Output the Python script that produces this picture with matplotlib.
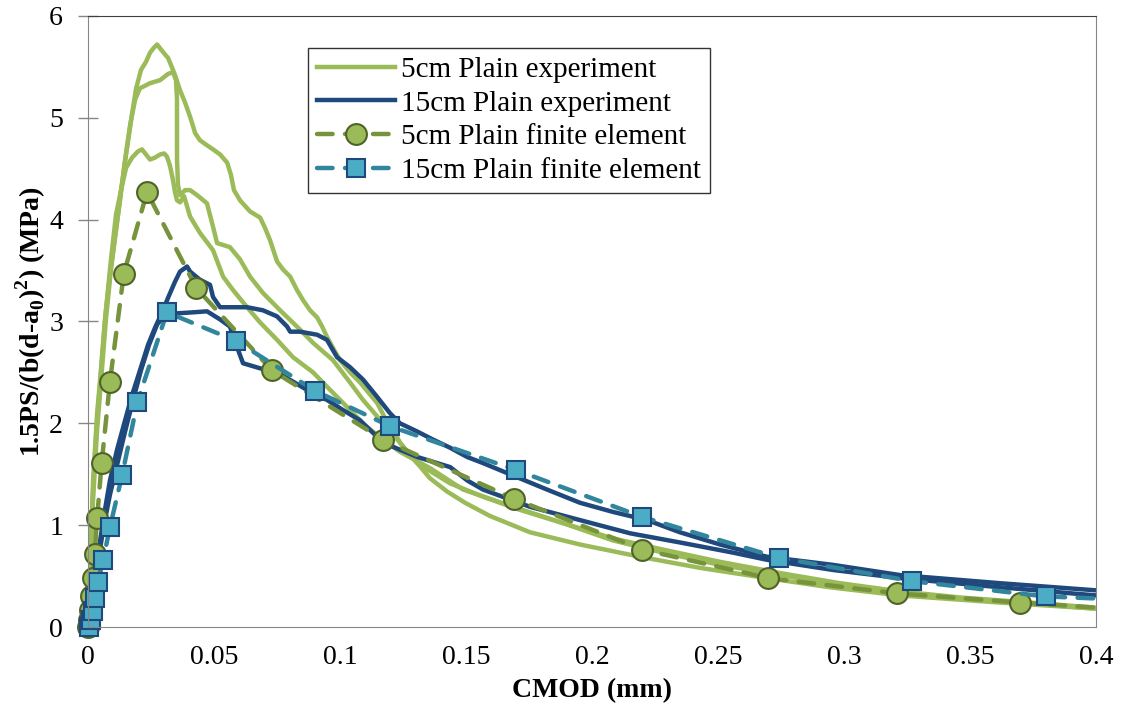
import matplotlib
matplotlib.use('Agg')
import matplotlib.pyplot as plt

plt.rcParams['font.family'] = ['Liberation Serif', 'DejaVu Serif']
plt.rcParams['mathtext.fontset'] = 'custom'
plt.rcParams['mathtext.rm'] = 'Liberation Serif'
plt.rcParams['mathtext.bf'] = 'Liberation Serif:bold'

# 5cm plain experiments (three specimens)
exp5a_x = [0, 0.0004, 0.0012, 0.002, 0.0036, 0.0048, 0.0067, 0.0087, 0.0111, 0.0131, 0.0151, 0.0171, 0.019, 0.021,
           0.023, 0.0246, 0.0262, 0.0274, 0.029, 0.0306, 0.0317, 0.0329, 0.0345, 0.0365, 0.0385, 0.0405, 0.0425,
           0.0444, 0.0472, 0.0496, 0.0524, 0.0552, 0.0567, 0.0579, 0.0603, 0.0643, 0.0683, 0.0702, 0.0722, 0.075,
           0.0774, 0.0802, 0.0829, 0.0853, 0.0881, 0.0909, 0.0929, 0.0948, 0.0972, 0.1, 0.104, 0.108, 0.112, 0.1147,
           0.1179, 0.121, 0.1238, 0.1266, 0.1306, 0.1357, 0.1425, 0.1496, 0.1595, 0.1754, 0.1952, 0.219, 0.243,
           0.2667, 0.2944, 0.3222, 0.3619, 0.4]
exp5a_y = [0, 0.36, 0.85, 1.44, 2.10, 2.43, 3.02, 3.46, 3.90, 4.29, 4.64, 4.98, 5.28, 5.47,
           5.55, 5.64, 5.69, 5.72, 5.67, 5.62, 5.59, 5.52, 5.42, 5.27, 5.15, 5.01, 4.85,
           4.78, 4.73, 4.69, 4.64, 4.56, 4.44, 4.29, 4.19, 4.08, 4.02, 3.92, 3.80, 3.59,
           3.51, 3.44, 3.31, 3.21, 3.11, 3.04, 2.95, 2.85, 2.74, 2.62, 2.50, 2.40, 2.28, 2.20,
           2.05, 1.94, 1.81, 1.72, 1.61, 1.46, 1.33, 1.22, 1.09, 0.93, 0.81, 0.69, 0.58,
           0.49, 0.39, 0.31, 0.24, 0.18]

exp5b_x = [0, 0.0008, 0.002, 0.0036, 0.0052, 0.0071, 0.0091, 0.0111, 0.0127, 0.0147, 0.0167, 0.0187, 0.0206,
           0.0246, 0.0286, 0.0317, 0.0337, 0.0349, 0.0353, 0.0353, 0.0353, 0.0357, 0.0365, 0.0385, 0.0405, 0.0433,
           0.0472, 0.0496, 0.0512, 0.0563, 0.0603, 0.0643, 0.0694, 0.0762, 0.0829, 0.0893, 0.0972, 0.104, 0.1091,
           0.1171, 0.1238, 0.1306, 0.1437, 0.1567, 0.1714, 0.1885, 0.2083, 0.2282, 0.2508, 0.2746, 0.2984, 0.3222,
           0.346, 0.3738, 0.4]
exp5b_y = [0, 0.56, 1.25, 1.94, 2.43, 3.02, 3.51, 3.90, 4.19, 4.59, 4.93, 5.18, 5.29,
           5.34, 5.37, 5.43, 5.45, 5.37, 5.18, 4.88, 4.59, 4.34, 4.24, 4.29, 4.29, 4.24,
           4.16, 3.93, 3.77, 3.73, 3.61, 3.44, 3.28, 3.11, 2.95, 2.79, 2.62, 2.40, 2.23,
           2.00, 1.81, 1.61, 1.41, 1.28, 1.15, 1.02, 0.87, 0.76, 0.64, 0.53, 0.43, 0.35,
           0.29, 0.24, 0.19]

exp5c_x = [0, 0.0008, 0.002, 0.0036, 0.0052, 0.0071, 0.0091, 0.0111, 0.0131, 0.0151, 0.0175, 0.0198, 0.0214,
           0.023, 0.0246, 0.0266, 0.0286, 0.0302, 0.0313, 0.0325, 0.0337, 0.0345, 0.0353, 0.0365, 0.0381, 0.0405,
           0.0444, 0.0496, 0.0536, 0.0575, 0.0631, 0.0683, 0.075, 0.0813, 0.0893, 0.096, 0.104, 0.1099, 0.1171,
           0.1238, 0.1357, 0.1488, 0.1687, 0.1885, 0.2083, 0.2282, 0.2508, 0.2746, 0.2984, 0.3222, 0.346, 0.3738, 0.4]
exp5c_y = [0, 0.66, 1.35, 2.03, 2.52, 3.11, 3.61, 4.05, 4.29, 4.51, 4.61, 4.67, 4.69,
           4.64, 4.59, 4.61, 4.64, 4.65, 4.62, 4.53, 4.39, 4.27, 4.19, 4.17, 4.23, 4.03,
           3.87, 3.70, 3.44, 3.31, 3.14, 2.99, 2.82, 2.65, 2.50, 2.33, 2.13, 1.98, 1.84,
           1.72, 1.56, 1.35, 1.18, 1.02, 0.85, 0.73, 0.61, 0.51, 0.41, 0.34, 0.28, 0.23, 0.18]

# 15cm plain experiments (two specimens)
exp15a_x = [0, 0.0008, 0.002, 0.0032, 0.0048, 0.0067, 0.0087, 0.0115, 0.0147, 0.0175, 0.0206, 0.0238, 0.0266,
            0.0294, 0.0317, 0.0345, 0.0365, 0.0393, 0.0405, 0.0444, 0.0484, 0.0496, 0.0524, 0.0631, 0.0694, 0.075,
            0.079, 0.0802, 0.0841, 0.0909, 0.0948, 0.0988, 0.104, 0.1091, 0.1147, 0.1198, 0.1238, 0.1306, 0.1369,
            0.1437, 0.1504, 0.1567, 0.1635, 0.1821, 0.1952, 0.2083, 0.2218, 0.2349, 0.2508, 0.2694, 0.2956, 0.3222,
            0.3619, 0.4]
exp15a_y = [0, 0.17, 0.36, 0.61, 0.85, 1.15, 1.44, 1.74, 2.03, 2.28, 2.52, 2.77, 2.94,
            3.09, 3.23, 3.39, 3.49, 3.54, 3.49, 3.41, 3.36, 3.24, 3.14, 3.14, 3.11, 3.05,
            2.95, 2.90, 2.90, 2.87, 2.82, 2.65, 2.55, 2.43, 2.26, 2.10, 2.00, 1.92, 1.84,
            1.76, 1.67, 1.61, 1.54, 1.35, 1.22, 1.13, 1.05, 0.93, 0.81, 0.69, 0.61, 0.51,
            0.43, 0.36]

exp15b_x = [0, 0.0012, 0.0028, 0.0044, 0.0063, 0.0087, 0.0115, 0.0147, 0.0179, 0.021, 0.0242, 0.0274, 0.0313,
            0.0353, 0.0417, 0.0472, 0.0524, 0.0563, 0.0591, 0.0615, 0.0683, 0.075, 0.0813, 0.0881, 0.0948, 0.1012,
            0.1079, 0.1171, 0.1306, 0.1437, 0.1504, 0.1567, 0.1754, 0.1952, 0.2151, 0.2349, 0.256, 0.2694, 0.2956,
            0.3222, 0.3619, 0.4]
exp15b_y = [0, 0.22, 0.46, 0.71, 1.00, 1.30, 1.59, 1.92, 2.23, 2.52, 2.77, 2.97, 3.09,
            3.08, 3.09, 3.10, 3.02, 2.95, 2.75, 2.59, 2.54, 2.50, 2.41, 2.31, 2.23, 2.13,
            2.03, 1.81, 1.67, 1.57, 1.44, 1.35, 1.18, 1.05, 0.92, 0.83, 0.73, 0.66, 0.56,
            0.48, 0.39, 0.31]

# finite element results
fe5_x = [0, 0.0004, 0.0008, 0.0012, 0.0018, 0.0026, 0.0036, 0.0054, 0.0087, 0.0142, 0.0234, 0.0429, 0.073,
         0.117, 0.169, 0.220, 0.270, 0.321, 0.370, 0.4]
fe5_y = [0, 0.07, 0.17, 0.30, 0.48, 0.72, 1.07, 1.61, 2.41, 3.47, 4.27, 3.33, 2.52,
         1.84, 1.26, 0.76, 0.48, 0.33, 0.24, 0.19]

fe15_x = [0.0005, 0.0012, 0.0018, 0.0026, 0.0038, 0.006, 0.0087, 0.0135, 0.0196, 0.0313, 0.0587, 0.090,
          0.120, 0.170, 0.220, 0.274, 0.327, 0.380, 0.4]
fe15_y = [0, 0.07, 0.16, 0.28, 0.44, 0.66, 0.98, 1.49, 2.21, 3.09, 2.81, 2.32,
          1.97, 1.54, 1.08, 0.68, 0.45, 0.30, 0.28]

x_ticks = [0, 0.05, 0.1, 0.15, 0.2, 0.25, 0.3, 0.35, 0.4]
x_labels = ['0', '0.05', '0.1', '0.15', '0.2', '0.25', '0.3', '0.35', '0.4']
y_ticks = [0, 1, 2, 3, 4, 5, 6]

green = '#9BBB59'
navy = '#1F497D'

fig = plt.figure(figsize=(11.23, 7.10), dpi=100)
ax = fig.add_axes([0.0784, 0.1169, 0.8976, 0.8606])

ax.plot(exp5a_x, exp5a_y, color=green, lw=3.2, label='5cm Plain experiment', solid_joinstyle='round')
ax.plot(exp5b_x, exp5b_y, color=green, lw=3.2, solid_joinstyle='round')
ax.plot(exp5c_x, exp5c_y, color=green, lw=3.2, solid_joinstyle='round')
ax.plot(exp15a_x, exp15a_y, color=navy, lw=3.2, label='15cm Plain experiment', solid_joinstyle='round')
ax.plot(exp15b_x, exp15b_y, color=navy, lw=3.2, solid_joinstyle='round')

ax.plot(fe5_x, fe5_y, color='#77933C', lw=3.2, dashes=(3.5, 2.8), dash_capstyle='round',
        marker='o', markersize=15, markerfacecolor=green, markeredgecolor='#4F6228', markeredgewidth=1.5,
        markevery=list(range(len(fe5_x) - 1)), clip_on=False, label='5cm Plain finite element')
ax.plot(fe15_x, fe15_y, color='#31859C', lw=3.2, dashes=(3.5, 2.8), dash_capstyle='round',
        marker='s', markersize=13, markerfacecolor='#4BACC6', markeredgecolor=navy, markeredgewidth=1.5,
        markevery=list(range(len(fe15_x) - 1)), clip_on=False, label='15cm Plain finite element')

ax.set_xlim(0, 0.4)
ax.set_ylim(0, 6)
ax.set_xticks(x_ticks)
ax.set_xticklabels(x_labels)
ax.set_yticks(y_ticks)
ax.tick_params(axis='x', length=0, pad=13, labelsize=20)
ax.tick_params(axis='y', direction='inout', length=14, width=1, color='#868686', pad=11, labelsize=20)

for side in ['left', 'bottom', 'right']:
    ax.spines[side].set_color('#868686')
ax.spines['top'].set_color('#404040')

ax.set_xlabel('CMOD (mm)', fontsize=20, fontweight='bold', labelpad=6)
ax.set_ylabel(r'1.5PS/(b(d-a$_\mathbf{0}$)$^\mathbf{2}$) (MPa)', fontsize=20, fontweight='bold', labelpad=1)

leg = ax.legend(loc='upper left', bbox_to_anchor=(0.218, 0.948), borderaxespad=0, fontsize=21,
                frameon=True, fancybox=False, edgecolor='black', handlelength=2.7, labelspacing=0.25,
                handletextpad=0.2, borderpad=0.3)
leg.get_frame().set_linewidth(1)

fig.savefig('out.png', dpi=100)
